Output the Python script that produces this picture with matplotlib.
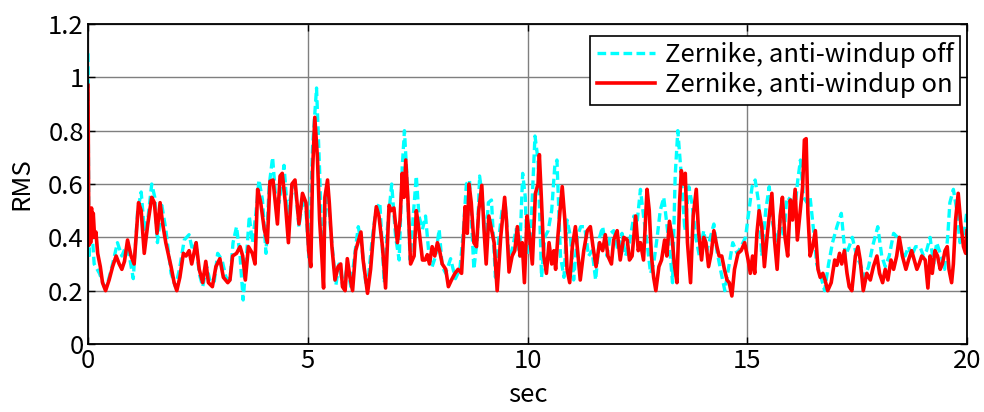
import matplotlib
matplotlib.use("Agg")
import matplotlib.pyplot as plt

plt.rcParams['font.family'] = ['Noto Sans CJK JP', 'DejaVu Sans']

# anti-windup ON (red solid)
t_on = [0.00, 0.02, 0.04, 0.06, 0.08, 0.10, 0.12, 0.15, 0.18, 0.22, 0.28, 0.33, 0.40,
        0.48, 0.56, 0.64, 0.71, 0.77, 0.83, 0.90, 0.98, 1.05, 1.15, 1.21, 1.28, 1.36,
        1.45, 1.51, 1.57, 1.64, 1.70, 1.77, 1.89, 1.96, 2.02, 2.09, 2.17, 2.23, 2.30,
        2.36, 2.46, 2.53, 2.61, 2.68, 2.74, 2.83, 2.91, 3.00, 3.08, 3.18, 3.23, 3.29,
        3.38, 3.46, 3.52, 3.58, 3.65, 3.74, 3.80, 3.86, 3.93, 4.01, 4.08, 4.14, 4.21,
        4.31, 4.37, 4.42, 4.49, 4.56, 4.64, 4.71, 4.80, 4.88,
        4.96, 5.02, 5.07, 5.11, 5.16, 5.22, 5.27, 5.32, 5.36, 5.39, 5.45, 5.49, 5.55,
        5.62, 5.69, 5.75, 5.79, 5.85, 5.90, 5.96, 6.02, 6.09, 6.14, 6.21, 6.26, 6.32,
        6.36, 6.43, 6.51, 6.56, 6.62, 6.70, 6.77, 6.85, 6.90, 6.96, 7.04, 7.10, 7.15,
        7.19, 7.23, 7.28, 7.34, 7.42, 7.47, 7.53, 7.61, 7.67, 7.72, 7.77, 7.83, 7.89,
        7.95, 8.00, 8.06, 8.14, 8.20, 8.27, 8.35, 8.42, 8.50, 8.58, 8.63, 8.67, 8.72,
        8.78, 8.84, 8.89, 8.96, 9.01, 9.06, 9.12, 9.18, 9.24, 9.31, 9.39, 9.48, 9.52,
        9.58, 9.65, 9.71, 9.77, 9.83, 9.88, 9.93, 9.99,
        10.05, 10.11, 10.18, 10.24, 10.27, 10.32, 10.37, 10.43, 10.49, 10.55, 10.60,
        10.64, 10.69, 10.74, 10.79, 10.85, 10.90, 10.96, 11.02, 11.09, 11.15, 11.20,
        11.28, 11.36, 11.43, 11.49, 11.56, 11.64, 11.71, 11.77, 11.83, 11.91, 11.96,
        12.04, 12.11, 12.19, 12.27, 12.32, 12.38, 12.46, 12.52, 12.57, 12.64, 12.72,
        12.77, 12.82, 12.87, 12.92, 12.99, 13.05, 13.12, 13.17, 13.23, 13.29, 13.34,
        13.40, 13.46, 13.50, 13.55, 13.59, 13.64, 13.71, 13.77, 13.84, 13.89, 13.96,
        14.01, 14.06, 14.12, 14.18, 14.24, 14.31, 14.36, 14.42, 14.48, 14.54, 14.59,
        14.65, 14.71, 14.79, 14.86, 14.94,
        15.02, 15.07, 15.12, 15.17, 15.22, 15.27, 15.33, 15.39, 15.45, 15.50, 15.56,
        15.62, 15.68, 15.75, 15.80, 15.86, 15.92, 15.98, 16.03, 16.09, 16.14, 16.20,
        16.26, 16.30, 16.34, 16.38, 16.43, 16.49, 16.55, 16.61, 16.66, 16.72, 16.77,
        16.83, 16.91, 16.99, 17.04, 17.10, 17.15, 17.21, 17.27, 17.32, 17.38, 17.46,
        17.52, 17.57, 17.64, 17.72, 17.80, 17.87, 17.95, 18.01, 18.08, 18.14, 18.20,
        18.27, 18.33, 18.40, 18.46, 18.53, 18.61, 18.67, 18.74, 18.80, 18.86, 18.91,
        18.97, 19.05, 19.11, 19.16, 19.21, 19.27, 19.33, 19.39, 19.44, 19.50, 19.55,
        19.59, 19.65, 19.69, 19.74, 19.80, 19.86, 19.92, 19.97, 20.00]
rms_on = [0.97, 0.37, 0.50, 0.38, 0.51, 0.40, 0.49, 0.40, 0.42, 0.34, 0.29, 0.23, 0.20,
          0.24, 0.29, 0.33, 0.30, 0.28, 0.31, 0.39, 0.33, 0.30, 0.53, 0.50, 0.34, 0.45,
          0.55, 0.53, 0.415, 0.53, 0.45, 0.38, 0.29, 0.23, 0.20, 0.25, 0.34, 0.33, 0.35,
          0.30, 0.38, 0.28, 0.23, 0.31, 0.23, 0.215, 0.29, 0.32, 0.25, 0.23, 0.24, 0.33,
          0.34, 0.365, 0.33, 0.24, 0.365, 0.34, 0.30, 0.58, 0.53, 0.43, 0.38, 0.61, 0.615,
          0.45, 0.63, 0.64, 0.53, 0.38, 0.60, 0.615, 0.45, 0.565,
          0.53, 0.35, 0.29, 0.65, 0.85, 0.70, 0.465, 0.33, 0.21, 0.55, 0.615, 0.53, 0.365,
          0.24, 0.29, 0.30, 0.215, 0.20, 0.32, 0.25, 0.20, 0.35, 0.38, 0.42, 0.315, 0.24,
          0.19, 0.28, 0.44, 0.515, 0.48, 0.365, 0.21, 0.52, 0.50, 0.51, 0.38, 0.465, 0.64,
          0.55, 0.69, 0.54, 0.30, 0.33, 0.50, 0.43, 0.315, 0.315, 0.335, 0.30, 0.365, 0.33,
          0.38, 0.35, 0.30, 0.28, 0.215, 0.24, 0.265, 0.28, 0.265, 0.515, 0.415, 0.60, 0.53,
          0.38, 0.365, 0.50, 0.595, 0.43, 0.30, 0.48, 0.43, 0.38, 0.20, 0.40, 0.55, 0.465,
          0.27, 0.33, 0.35, 0.44, 0.33, 0.38, 0.23, 0.48,
          0.40, 0.30, 0.565, 0.60, 0.71, 0.53, 0.33, 0.265, 0.38, 0.30, 0.35,
          0.28, 0.40, 0.50, 0.59, 0.465, 0.28, 0.23, 0.365, 0.44, 0.33, 0.24,
          0.35, 0.425, 0.44, 0.365, 0.29, 0.38, 0.35, 0.41, 0.33, 0.30, 0.39,
          0.425, 0.315, 0.40, 0.39, 0.315, 0.33, 0.48, 0.35, 0.38, 0.315, 0.58,
          0.50, 0.33, 0.25, 0.20, 0.29, 0.315, 0.39, 0.33, 0.46, 0.40, 0.30,
          0.23, 0.53, 0.65, 0.60, 0.64, 0.38, 0.23, 0.48, 0.58, 0.425, 0.315,
          0.40, 0.38, 0.29, 0.34, 0.425, 0.365, 0.33, 0.33, 0.28, 0.24, 0.23,
          0.18, 0.28, 0.34, 0.35, 0.38,
          0.315, 0.265, 0.33, 0.265, 0.415, 0.50, 0.44, 0.29, 0.40, 0.48, 0.565,
          0.39, 0.28, 0.48, 0.55, 0.40, 0.33, 0.54, 0.465, 0.58, 0.39, 0.49,
          0.59, 0.765, 0.77, 0.49, 0.33, 0.365, 0.425, 0.28, 0.25, 0.265, 0.24,
          0.20, 0.23, 0.315, 0.295, 0.34, 0.30, 0.35, 0.265, 0.215, 0.20, 0.33,
          0.365, 0.315, 0.20, 0.265, 0.24, 0.29, 0.33, 0.265, 0.23, 0.28, 0.24,
          0.315, 0.28, 0.33, 0.40, 0.33, 0.28, 0.315, 0.35, 0.315, 0.28, 0.30,
          0.33, 0.315, 0.21, 0.33, 0.265, 0.35, 0.33, 0.28, 0.30, 0.35, 0.365,
          0.28, 0.23, 0.30, 0.465, 0.565, 0.45, 0.365, 0.34, 0.425]

# anti-windup OFF (cyan dashed)
t_off = [0.00, 0.02, 0.05, 0.10, 0.14, 0.26, 0.37, 0.45, 0.56, 0.67, 0.77, 0.86, 0.94,
         1.03, 1.13, 1.21, 1.28, 1.36, 1.45, 1.52, 1.58, 1.68, 1.77, 1.89, 1.99, 2.08,
         2.19, 2.30, 2.38, 2.46, 2.53, 2.61, 2.70, 2.77, 2.87, 2.95, 3.05, 3.14, 3.23,
         3.30, 3.38, 3.46, 3.53, 3.59, 3.67, 3.74, 3.82, 3.89, 3.97, 4.05, 4.12, 4.20,
         4.27, 4.35, 4.46, 4.54, 4.61, 4.71, 4.80, 4.89,
         4.96, 5.03, 5.11, 5.20, 5.27, 5.33, 5.39, 5.45, 5.52, 5.64, 5.71, 5.80, 5.90,
         5.98, 6.08, 6.15, 6.23, 6.32, 6.39, 6.47, 6.55, 6.64, 6.74, 6.81, 6.91, 7.00,
         7.08, 7.15, 7.20, 7.25, 7.33, 7.40, 7.47, 7.53, 7.61, 7.68, 7.76, 7.83, 7.91,
         7.99, 8.06, 8.14, 8.25, 8.36, 8.46, 8.53, 8.61, 8.68, 8.78, 8.86, 8.91, 8.97,
         9.05, 9.11, 9.18, 9.27, 9.35, 9.42, 9.50, 9.58, 9.65, 9.74, 9.82, 9.89, 9.95,
         9.99, 10.07, 10.17, 10.24, 10.32, 10.39, 10.47, 10.55, 10.62, 10.67, 10.75,
         10.83, 10.90, 10.98, 11.05, 11.13, 11.21, 11.30, 11.39, 11.47, 11.55, 11.64,
         11.71, 11.81, 11.89, 11.96, 12.06, 12.15, 12.23, 12.32, 12.42, 12.49, 12.57,
         12.64, 12.72, 12.80, 12.87, 12.95, 13.02, 13.10, 13.17, 13.25, 13.30, 13.36,
         13.42, 13.50, 13.58, 13.67, 13.74, 13.83, 13.91, 14.01, 14.08, 14.16, 14.24,
         14.31, 14.39, 14.49, 14.58, 14.67, 14.77, 14.86,
         14.96, 15.03, 15.11, 15.18, 15.26, 15.33, 15.42, 15.50, 15.58, 15.68, 15.75,
         15.83, 15.90, 16.00, 16.08, 16.15, 16.21, 16.28, 16.36, 16.43, 16.51, 16.58,
         16.68, 16.76, 16.85, 16.94, 17.04, 17.14, 17.23, 17.32, 17.39, 17.49, 17.57,
         17.67, 17.76, 17.85, 17.97, 18.06, 18.14, 18.23, 18.33, 18.42, 18.52, 18.59,
         18.67, 18.74, 18.83, 18.93, 19.01, 19.08, 19.16, 19.24, 19.31, 19.41, 19.49,
         19.56, 19.61, 19.69, 19.77, 19.84, 19.92, 20.00]
rms_off = [1.09, 0.32, 0.45, 0.40, 0.30, 0.265, 0.215, 0.23, 0.30, 0.38, 0.33, 0.365, 0.33,
           0.245, 0.50, 0.57, 0.43, 0.465, 0.60, 0.55, 0.38, 0.52, 0.43, 0.265, 0.215, 0.28,
           0.39, 0.41, 0.35, 0.38, 0.265, 0.215, 0.29, 0.24, 0.23, 0.34, 0.315, 0.25, 0.24,
           0.38, 0.44, 0.33, 0.165, 0.29, 0.48, 0.38, 0.49, 0.615, 0.54, 0.34, 0.59, 0.70,
           0.55, 0.53, 0.67, 0.49, 0.55, 0.60, 0.44, 0.55,
           0.50, 0.315, 0.74, 0.96, 0.65, 0.33, 0.465, 0.59, 0.43, 0.22, 0.30, 0.215, 0.29,
           0.215, 0.35, 0.44, 0.365, 0.23, 0.265, 0.40, 0.50, 0.53, 0.23, 0.43, 0.60, 0.40,
           0.315, 0.665, 0.80, 0.65, 0.315, 0.48, 0.63, 0.48, 0.43, 0.48, 0.33, 0.29, 0.33,
           0.43, 0.29, 0.265, 0.32, 0.245, 0.28, 0.40, 0.60, 0.615, 0.28, 0.40, 0.63, 0.55,
           0.38, 0.53, 0.54, 0.25, 0.40, 0.50, 0.515, 0.33, 0.35, 0.43, 0.33, 0.64, 0.55,
           0.33, 0.40, 0.78, 0.69, 0.25, 0.40, 0.425, 0.50, 0.665, 0.69, 0.33,
           0.25, 0.465, 0.40, 0.24, 0.40, 0.44, 0.44, 0.33, 0.35, 0.24, 0.40,
           0.44, 0.33, 0.415, 0.425, 0.35, 0.415, 0.33, 0.38, 0.48, 0.45, 0.58,
           0.48, 0.38, 0.265, 0.30, 0.40, 0.50, 0.55, 0.45, 0.33, 0.23, 0.63,
           0.80, 0.63, 0.425, 0.59, 0.53, 0.40, 0.33, 0.425, 0.35, 0.40, 0.45,
           0.35, 0.28, 0.20, 0.29, 0.38, 0.34, 0.365,
           0.40, 0.49, 0.59, 0.615, 0.53, 0.33, 0.50, 0.59, 0.45, 0.38, 0.465,
           0.40, 0.55, 0.54, 0.50, 0.615, 0.69, 0.55, 0.53, 0.55, 0.425, 0.30,
           0.25, 0.20, 0.30, 0.38, 0.44, 0.49, 0.33, 0.365, 0.40, 0.33, 0.30,
           0.25, 0.29, 0.365, 0.44, 0.33, 0.29, 0.33, 0.415, 0.40, 0.35, 0.33,
           0.365, 0.33, 0.365, 0.365, 0.33, 0.35, 0.40, 0.30, 0.38, 0.33, 0.28,
           0.40, 0.53, 0.58, 0.50, 0.38, 0.40, 0.50]

labels = ['Zernike, anti-windup off', 'Zernike, anti-windup on']
x_ticks = [0, 5, 10, 15, 20]
y_ticks = [0, 0.2, 0.4, 0.6, 0.8, 1.0, 1.2]
y_ticklabels = ['0', '0.2', '0.4', '0.6', '0.8', '1', '1.2']

FS = 18.5

fig = plt.figure(figsize=(9.84, 4.12), dpi=100)
ax = fig.add_axes([88/984, 1-344/412, (967-88)/984, (344-24)/412])

ax.plot(t_off, rms_off, color='#00FFFF', linestyle='--', linewidth=2.4,
        dashes=(2.6, 1.3), label=labels[0])
ax.plot(t_on, rms_on, color='#FF0000', linestyle='-', linewidth=2.6, label=labels[1])

ax.set_xlim(0, 20)
ax.set_ylim(0, 1.2)
ax.set_xticks(x_ticks)
ax.set_yticks(y_ticks)
ax.set_yticklabels(y_ticklabels)
ax.grid(True, color='#7f7f7f', linewidth=1.0)
ax.set_axisbelow(True)
ax.tick_params(direction='in', top=True, right=True, labelsize=FS, length=5, width=1, pad=3)
for s in ax.spines.values():
    s.set_linewidth(1.3)
ax.set_xlabel('sec', fontsize=FS, labelpad=6)
ax.set_ylabel('RMS', fontsize=FS, labelpad=10)

leg = ax.legend(loc='upper right', bbox_to_anchor=(0.992, 0.9625), borderaxespad=0,
                fancybox=False, edgecolor='black', fontsize=FS, handlelength=2.25,
                handletextpad=0.4, borderpad=0.25, labelspacing=0.15, framealpha=1)
leg.get_frame().set_linewidth(1.2)

fig.savefig('out.png', dpi=100)
